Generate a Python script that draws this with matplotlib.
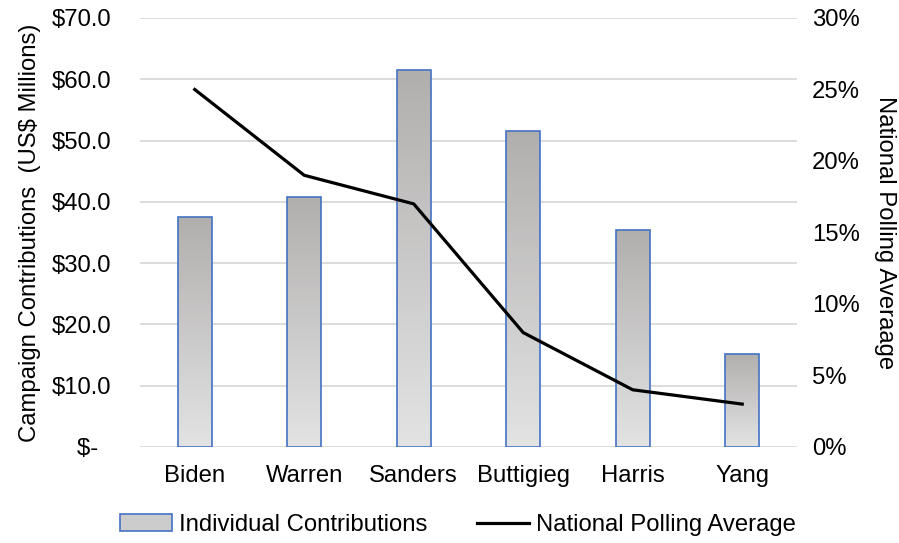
import numpy as np
import matplotlib.pyplot as plt
from matplotlib.colors import LinearSegmentedColormap
from matplotlib.patches import Patch
from matplotlib.lines import Line2D
from matplotlib.ticker import FuncFormatter

plt.rcParams['font.family'] = ['Liberation Sans', 'DejaVu Sans']

# candidates, money raised (US$ millions) and national polling (%)
candidates = ['Biden', 'Warren', 'Sanders', 'Buttigieg', 'Harris', 'Yang']
contributions = [37.5, 40.8, 61.5, 51.5, 35.4, 15.2]
polling = [25.0, 19.0, 17.0, 8.0, 4.0, 3.0]

fs = 17.2
grid_col = '#d9d9d9'
edge_col = '#4472c4'
gray_grad = LinearSegmentedColormap.from_list('gray_grad', ['#e3e3e3', '#b1afae'])

fig = plt.figure(figsize=(8.99, 5.43), dpi=100)
ax = fig.add_axes([0.1557, 0.1768, 0.7308, 0.7901])

x = np.arange(len(candidates))
bars = ax.bar(x, contributions, width=0.31, facecolor='none',
              edgecolor=edge_col, linewidth=1.2, zorder=3)

# vertical gray gradient inside each bar
grad = np.linspace(0, 1, 256).reshape(-1, 1)
for b in bars:
    x0, w, h = b.get_x(), b.get_width(), b.get_height()
    im = ax.imshow(grad, cmap=gray_grad, origin='lower', aspect='auto',
                   extent=[x0, x0 + w, 0, h], zorder=2)
    im.set_clip_path(b)

ax.set_xlim(-0.5, len(candidates) - 0.5)
ax.set_ylim(0, 70)
ax.set_yticks(np.arange(0, 71, 10))


def money(v, pos):
    if v == 0:
        return '$-  '
    return f'${v:.1f}'


ax.yaxis.set_major_formatter(FuncFormatter(money))
ax.set_xticks(x)
ax.set_xticklabels(candidates)
ax.grid(axis='y', color=grid_col, linewidth=1.3, zorder=0)
ax.set_axisbelow(True)
for s in ax.spines.values():
    s.set_visible(False)
ax.tick_params(axis='both', length=0, labelsize=fs)
ax.tick_params(axis='y', pad=20.5)
ax.tick_params(axis='x', pad=13)
ax.set_ylabel('Campaign Contributions  (US$ Millions)', fontsize=fs, labelpad=8)

ax2 = ax.twinx()
ax2.plot(x, polling, color='black', linewidth=2.3, zorder=4)
ax2.set_ylim(0, 30)
ax2.set_yticks(np.arange(0, 31, 5))
ax2.yaxis.set_major_formatter(FuncFormatter(lambda v, p: f'{v:.0f}%'))
for s in ax2.spines.values():
    s.set_visible(False)
ax2.tick_params(axis='y', length=0, labelsize=fs, pad=11)
ax2.set_ylabel('National Polling Averaage', fontsize=fs, rotation=-90,
               labelpad=26)

handles = [Patch(facecolor='#cccccc', edgecolor=edge_col, linewidth=1.2),
           Line2D([0], [0], color='black', linewidth=2.3)]
fig.legend(handles, ['Individual Contributions', 'National Polling Average'],
           loc='center', bbox_to_anchor=(0.5095, 0.033), ncol=2, frameon=False,
           fontsize=fs, handlelength=2.2, handletextpad=0.3, columnspacing=2.05)

fig.savefig('out.png', dpi=100)
